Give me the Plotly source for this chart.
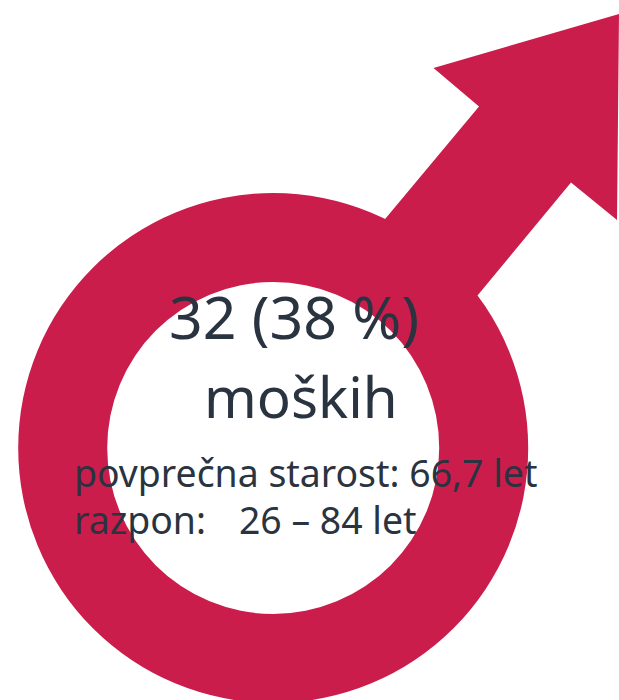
import plotly.graph_objects as go

men_count = [32]
men_share = ["38 %"]
label = ["moških"]
mean_age = ["66,7"]
age_range = ["26 – 84"]

RED = "#CB1D4C"
INK = "#2A3340"
FONT = "Noto Sans, Open Sans, sans-serif"

cx, cy, r_out, r_in = 273.2, 448, 255, 166

arrow = ("M 385.5 218.5 L 479 106.5 L 433.5 68 L 619 14 L 617 220 L 571 182.5 "
         "L 477.5 295.5 L 405 335 L 350 280 Z")


def disc(r, colour):
    return dict(type="circle", x0=cx - r, x1=cx + r, y0=cy - r, y1=cy + r,
                fillcolor=colour, line_width=0, layer="below")


shapes = [
    dict(type="path", path=arrow, fillcolor=RED, line_width=0, layer="below"),
    disc(r_out, RED),
    disc(r_in, "white"),
]

texts = [
    (f"{men_count[0]} ({men_share[0]})", 294, 316, 59, "center"),
    (label[0], 301, 396, 56.5, "center"),
    (f"povprečna starost: {mean_age[0]} let", 71.5, 472, 37.4, "left"),
    (f"razpon:   {age_range[0]} let", 71.5, 519, 37.4, "left"),
]

fig = go.Figure()
for t, x, y, s, a in texts:
    fig.add_annotation(x=x, y=y, text=t.replace("   ", "&nbsp;&nbsp;&nbsp;&#8202;"), showarrow=False,
                       xanchor=a, yanchor="middle",
                       font=dict(size=s, color=INK, family=FONT))

fig.update_layout(
    width=619, height=700, margin=dict(l=0, r=0, t=0, b=0),
    paper_bgcolor="white", plot_bgcolor="white", shapes=shapes, showlegend=False,
    xaxis=dict(range=[0, 619], visible=False, fixedrange=True),
    yaxis=dict(range=[700, 0], visible=False, fixedrange=True),
)
fig.write_html("out.html", config={"displayModeBar": False},
               post_script="document.body.style.margin='0';document.documentElement.style.overflow='hidden';")
